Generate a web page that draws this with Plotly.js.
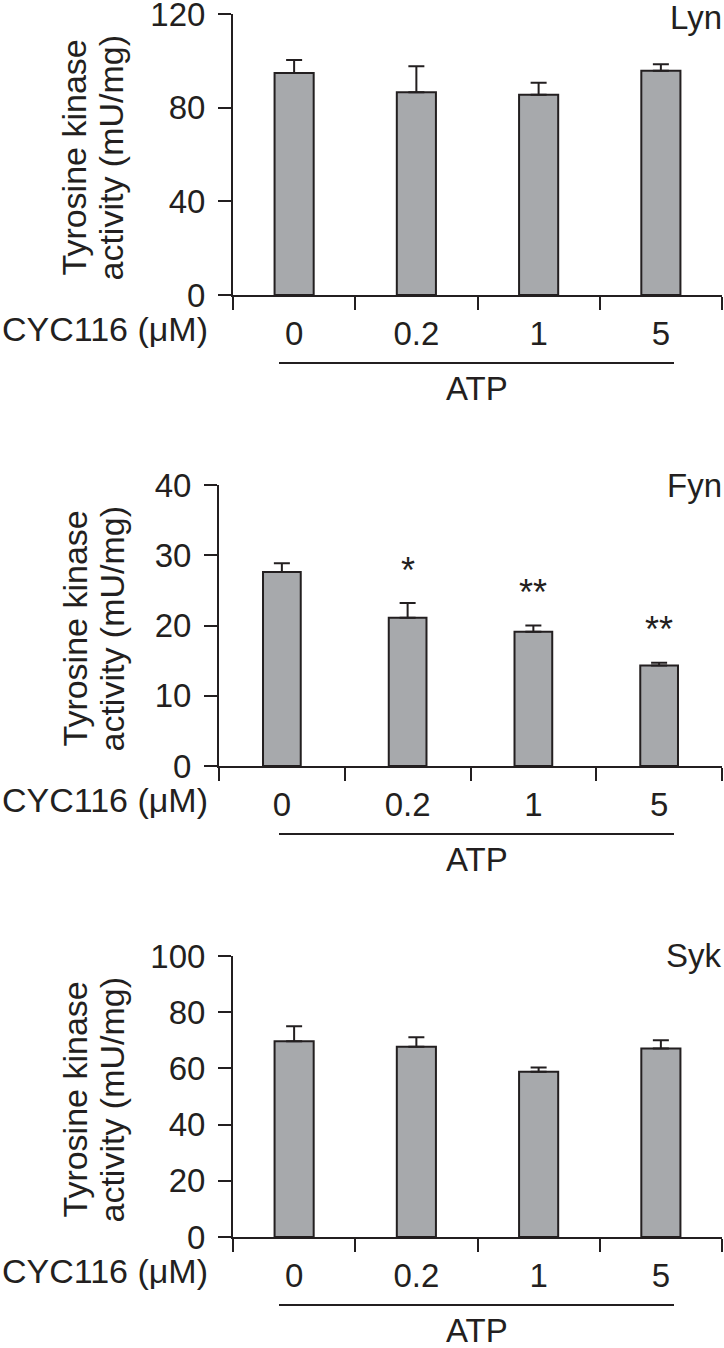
<!DOCTYPE html>
<html>
<head>
<meta charset="utf-8">
<script src="https://cdn.plot.ly/plotly-3.0.1.min.js"></script>
<style>html,body{margin:0;padding:0;background:#fff;}#chart{width:724px;height:1348px;}</style>
</head>
<body>
<div id="chart"></div>
<script>
// ---- data ----
const categories = ['0', '0.2', '1', '5'];
const kinaseNames = ['Lyn', 'Fyn', 'Syk'];
const lynMean = [94.8, 86.6, 85.5, 95.8];
const lynErr  = [5.6, 11.1, 5.1, 2.7];
const fynMean = [27.6, 21.1, 19.1, 14.3];
const fynErr  = [1.25, 2.1, 0.9, 0.4];
const sykMean = [69.7, 67.7, 58.8, 67.1];
const sykErr  = [5.3, 3.4, 1.5, 2.9];
const fynSig  = ['', '*', '**', '**'];
const lynTicks = [0, 40, 80, 120];
const fynTicks = [0, 10, 20, 30, 40];
const sykTicks = [0, 20, 40, 60, 80, 100];
const yTitleLine1 = 'Tyrosine kinase';
const yTitleLine2 = 'activity (mU/mg)';
const doseLabel = 'CYC116 (\u03bcM)';
const groupLabel = 'ATP';

// ---- styling / layout ----
const W = 724, H = 1348;
const INK = '#231f20';
const FILL = '#a7a9ac';
const FONT = 'Liberation Sans, Arial, Helvetica, sans-serif';
const FS = 33;

const panels = [
  {name: kinaseNames[0], mean: lynMean, err: lynErr, ticks: lynTicks, left: 233, top: 14, bottom: 295, sig: null, bw: 0.32},
  {name: kinaseNames[1], mean: fynMean, err: fynErr, ticks: fynTicks, left: 219, top: 485, bottom: 766, sig: fynSig, bw: 0.30},
  {name: kinaseNames[2], mean: sykMean, err: sykErr, ticks: sykTicks, left: 233, top: 956, bottom: 1237, sig: null, bw: 0.32}
];
const RIGHT = 722;
const idx = categories.map((_, i) => i);
const bounds = [-0.5].concat(idx.map(i => i + 0.5));

const px = x => x / W;
const py = y => 1 - y / H;

const traces = [];
const layout = {
  width: W, height: H,
  margin: {l: 0, r: 0, t: 0, b: 0},
  paper_bgcolor: '#fff', plot_bgcolor: 'rgba(0,0,0,0)',
  showlegend: false,
  font: {family: FONT, size: FS, color: INK},
  annotations: [], shapes: []
};

panels.forEach((p, k) => {
  const n = k + 1;
  const xa = 'x' + (n === 1 ? '' : n), ya = 'y' + (n === 1 ? '' : n);
  const xKey = 'xaxis' + (n === 1 ? '' : n), yKey = 'yaxis' + (n === 1 ? '' : n);
  traces.push({
    type: 'bar', x: idx, y: p.mean, xaxis: xa, yaxis: ya, width: p.bw,
    marker: {color: FILL, line: {color: INK, width: 2}},
    error_y: {type: 'data', symmetric: false, array: p.err, arrayminus: p.err.map(() => 0),
              color: INK, thickness: 2, width: 8},
    hoverinfo: 'skip'
  });
  layout[xKey] = {
    domain: [px(p.left), px(RIGHT)], anchor: ya,
    range: [-0.5, categories.length - 0.5],
    tickmode: 'array', tickvals: idx, ticktext: categories,
    ticks: '', ticklabelstandoff: 8, ticklabeloverflow: 'allow',
    showline: true, linecolor: INK, linewidth: 2,
    showgrid: false, zeroline: false, fixedrange: true,
    tickfont: {size: FS, color: INK, family: FONT},
    minor: {tickmode: 'array', tickvals: bounds, ticks: 'outside', ticklen: 13, tickwidth: 2, tickcolor: INK, showgrid: false}
  };
  const ymax = p.ticks[p.ticks.length - 1];
  layout[yKey] = {
    domain: [py(p.bottom), py(p.top)], anchor: xa,
    range: [0, ymax],
    tickmode: 'array', tickvals: p.ticks,
    ticks: 'outside', ticklen: 13, tickwidth: 2, tickcolor: INK,
    ticklabelstandoff: 6, ticklabeloverflow: 'allow',
    showline: true, linecolor: INK, linewidth: 2,
    showgrid: false, zeroline: false, fixedrange: true,
    tickfont: {size: FS, color: INK, family: FONT}
  };
  const yc = (p.top + p.bottom) / 2 + 3;
  // y title (two lines)
  layout.annotations.push({xref: 'paper', yref: 'paper', x: px(74), y: py(yc), text: yTitleLine1,
    textangle: -90, showarrow: false, xanchor: 'center', yanchor: 'middle', font: {size: 34}});
  layout.annotations.push({xref: 'paper', yref: 'paper', x: px(111), y: py(yc), text: yTitleLine2,
    textangle: -90, showarrow: false, xanchor: 'center', yanchor: 'middle', font: {size: 34}});
  // kinase name
  layout.annotations.push({xref: 'paper', yref: 'paper', x: px(RIGHT + 2), y: py(Math.max(p.top, 17)), text: p.name,
    showarrow: false, xanchor: 'right', yanchor: 'middle', font: {size: FS}});
  // dose label
  layout.annotations.push({xref: 'paper', yref: 'paper', x: px(0), y: py(p.bottom + 34), text: doseLabel,
    showarrow: false, xanchor: 'left', yanchor: 'middle', font: {size: 34}});
  // ATP line + label
  layout.shapes.push({type: 'line', xref: 'paper', yref: 'paper', x0: px(279), x1: px(674),
    y0: py(p.bottom + 68), y1: py(p.bottom + 68), line: {color: INK, width: 2}});
  layout.annotations.push({xref: 'paper', yref: 'paper', x: px(477), y: py(p.bottom + 93), text: groupLabel,
    showarrow: false, xanchor: 'center', yanchor: 'middle', font: {size: FS}});
  // significance stars
  if (p.sig) {
    p.sig.forEach((s, i) => {
      if (!s) return;
      layout.annotations.push({xref: xa, yref: ya, x: i, y: p.mean[i] + p.err[i], text: s,
        showarrow: false, xanchor: 'center', yanchor: 'middle', yshift: 33, font: {size: 36}});
    });
  }
});

Plotly.newPlot('chart', traces, layout, {staticPlot: true, displayModeBar: false});
</script>
</body>
</html>
